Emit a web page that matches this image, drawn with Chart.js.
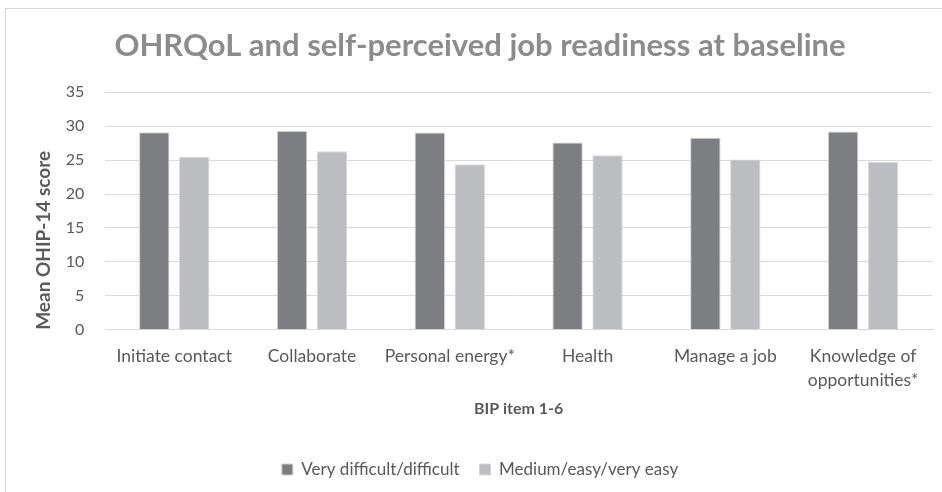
<!DOCTYPE html>
<html>
<head>
<meta charset="utf-8">
<script src="https://cdn.jsdelivr.net/npm/chart.js@4/dist/chart.umd.min.js"></script>
<style>
  body { margin: 0; background: #fff; }
  #box { position: absolute; left: 5px; top: 8px; width: 960px; height: 500px; border: 1px solid #d9d9d9; }
  #wrap { position: absolute; left: 0; top: 0; width: 942px; height: 492px; }
</style>
</head>
<body>
<div id="box"></div>
<div id="wrap"><canvas id="chart" width="942" height="492"></canvas></div>
<script>
// ---------------- DATA ----------------
const categories = ["Initiate contact", "Collaborate", "Personal energy*", "Health", "Manage a job", ["Knowledge of", "opportunities*"]];
const difficult = [29.1, 29.3, 29.05, 27.6, 28.3, 29.2];
const easy = [25.5, 26.3, 24.4, 25.7, 25.1, 24.7];
const seriesNames = ["Very difficult/difficult", "Medium/easy/very easy"];

const textColor = "#595959";
const gridColor = "#d9d9d9";
const fontFam = "Lato, 'Liberation Sans', sans-serif";

new Chart(document.getElementById("chart"), {
    type: "bar",
    data: {
        labels: categories,
        datasets: [
            { label: seriesNames[0], data: difficult, backgroundColor: "#7d7e82", borderColor: "#d0d0d2", borderWidth: 1 },
            { label: seriesNames[1], data: easy, backgroundColor: "#bcbdc0", borderColor: "#d6d6d8", borderWidth: 1 }
        ]
    },
    options: {
        responsive: false,
        animation: false,
        categoryPercentage: 0.58,
        barPercentage: 0.76,
        layout: { padding: { left: 28, right: 10, top: 0, bottom: 4 } },
        plugins: {
            title: {
                display: true,
                text: "OHRQoL and self-perceived job readiness at baseline",
                color: "#8c8c8c",
                font: { family: fontFam, size: 31, weight: "bold" },
                padding: { top: 27, bottom: 28 }
            },
            legend: {
                position: "bottom",
                labels: {
                    color: textColor,
                    font: { family: fontFam, size: 17 },
                    boxWidth: 11,
                    boxHeight: 11,
                    padding: 20
                }
            },
            tooltip: { enabled: false }
        },
        scales: {
            x: {
                grid: { display: false },
                border: { color: gridColor },
                ticks: { color: textColor, font: { family: fontFam, size: 17.5, lineHeight: 1.4 }, maxRotation: 0, padding: 6 },
                title: {
                    display: true,
                    text: "BIP item 1-6",
                    color: textColor,
                    font: { family: fontFam, size: 16, weight: "bold" },
                    padding: { top: 0, bottom: 23 }
                }
            },
            y: {
                min: 0,
                max: 35,
                ticks: { stepSize: 5, color: textColor, font: { family: fontFam, size: 16 }, padding: 21 },
                grid: { color: gridColor, drawTicks: false },
                border: { display: false },
                title: {
                    display: true,
                    text: "Mean OHIP-14 score",
                    align: "start",
                    color: textColor,
                    font: { family: fontFam, size: 19, weight: "bold" },
                    padding: { top: 4, bottom: -10 }
                }
            }
        }
    }
});
</script>
</body>
</html>
